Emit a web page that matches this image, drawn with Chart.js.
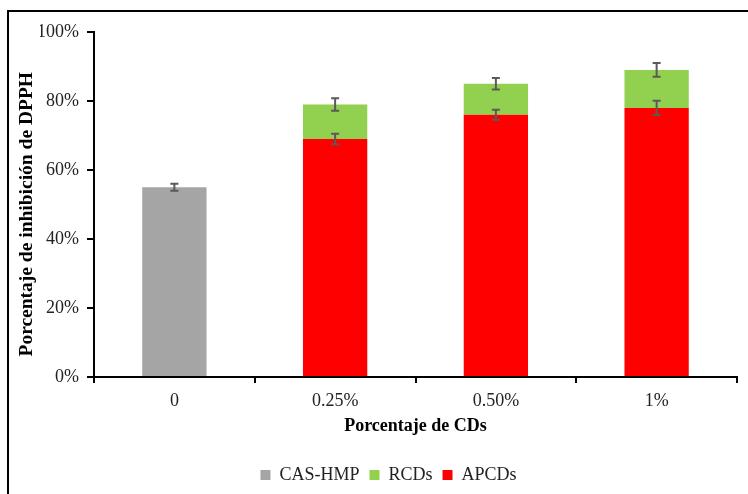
<!DOCTYPE html>
<html>
<head>
<meta charset="utf-8">
<script src="https://cdn.jsdelivr.net/npm/chart.js@4"></script>
<style>
  html, body { margin: 0; padding: 0; background: #fff; }
  #wrap { width: 748px; height: 494px; }
</style>
</head>
<body>
<div id="wrap"><canvas id="dpphChart" width="748" height="494"></canvas></div>
<script>
// DPPH inhibition by CD concentration
const categories = ['0', '0.25%', '0.50%', '1%'];
const casHmp = [55, null, null, null];
const apcds = [null, 69, 76, 78];
const rcds = [null, 10, 9, 11];           // stacked on top of APCDs
const casHmpErr = [1.05, null, null, null];
const apcdsErr = [null, 1.5, 1.45, 2.05];
const rcdsErr = [null, 1.8, 1.65, 2.0];
const yTicks = [0, 20, 40, 60, 80, 100];
const legendOrder = ['CAS-HMP', 'RCDs', 'APCDs'];

const serif = '"Liberation Serif", "Times New Roman", serif';

// outer frame lines
const framePlugin = {
    id: 'frame',
    beforeDraw(chart) {
        const c = chart.ctx;
        c.save();
        c.fillStyle = '#fff';
        c.fillRect(0, 0, chart.width, chart.height);
        c.strokeStyle = '#000';
        c.lineWidth = 2;
        c.beginPath();
        c.moveTo(chart.width + 2, 11);
        c.lineTo(8, 11);
        c.lineTo(8, chart.height + 2);
        c.stroke();
        c.restore();
    }
};

// error bars on top of each bar segment
const errorBarPlugin = {
    id: 'errorBars',
    afterDatasetsDraw(chart) {
        const c = chart.ctx;
        const y = chart.scales.y;
        c.save();
        c.strokeStyle = '#5a5a5a';
        c.lineWidth = 2;
        chart.data.datasets.forEach((ds, i) => {
            const meta = chart.getDatasetMeta(i);
            meta.data.forEach((bar, j) => {
                const err = ds.errors[j];
                if (err == null || ds.data[j] == null) return;
                const px = y.getPixelForValue(0) - y.getPixelForValue(err);
                const x = bar.x;
                c.beginPath();
                c.moveTo(x, bar.y - px);
                c.lineTo(x, bar.y + px);
                c.moveTo(x - 4, bar.y - px);
                c.lineTo(x + 4, bar.y - px);
                c.moveTo(x - 4, bar.y + px);
                c.lineTo(x + 4, bar.y + px);
                c.stroke();
            });
        });
        c.restore();
    }
};

new Chart(document.getElementById('dpphChart'), {
    type: 'bar',
    data: {
        labels: categories,
        datasets: [
            { label: 'CAS-HMP', data: casHmp, errors: casHmpErr, backgroundColor: '#a5a5a5' },
            { label: 'APCDs', data: apcds, errors: apcdsErr, backgroundColor: '#ff0000' },
            { label: 'RCDs', data: rcds, errors: rcdsErr, backgroundColor: '#92d050' }
        ]
    },
    options: {
        responsive: false,
        animation: false,
        // left padding keeps the legend centred under the frame
        layout: { padding: { left: 40, top: 32, right: 11, bottom: 0 } },
        datasets: { bar: { categoryPercentage: 1, barPercentage: 0.4 } },
        plugins: {
            tooltip: { enabled: false },
            legend: {
                position: 'bottom',
                labels: {
                    color: '#222',
                    font: { family: serif, size: 18 },
                    boxWidth: 10,
                    boxHeight: 10,
                    padding: 10,
                    sort: (a, b) => legendOrder.indexOf(a.text) - legendOrder.indexOf(b.text)
                }
            }
        },
        scales: {
            x: {
                stacked: true,
                afterFit: (s) => { s.height = 79; },
                grid: { drawOnChartArea: false, offset: true, color: '#000', tickLength: 6, lineWidth: 2 },
                border: { color: '#000', width: 2 },
                ticks: { color: '#222', font: { family: serif, size: 18 }, padding: 7 },
                title: {
                    display: true,
                    text: 'Porcentaje de CDs',
                    color: '#000',
                    font: { family: serif, size: 18, weight: 'bold' },
                    padding: { top: 0, bottom: 19 }
                }
            },
            y: {
                stacked: true,
                min: 0,
                max: 100,
                afterFit: (s) => { s.width = 54; },
                afterBuildTicks: (s) => { s.ticks = yTicks.map(v => ({ value: v })); },
                grid: { drawOnChartArea: false, color: '#000', tickLength: 7, lineWidth: 2 },
                border: { color: '#000', width: 2 },
                ticks: {
                    color: '#222',
                    font: { family: serif, size: 18 },
                    padding: 8,
                    callback: (v) => v + '%'
                },
                title: {
                    display: true,
                    text: 'Porcentaje de inhibición de DPPH    ',
                    color: '#000',
                    font: { family: serif, size: 19.5, weight: 'bold' },
                    padding: { top: -25, bottom: 0 }
                }
            }
        }
    },
    plugins: [framePlugin, errorBarPlugin]
});
</script>
</body>
</html>
